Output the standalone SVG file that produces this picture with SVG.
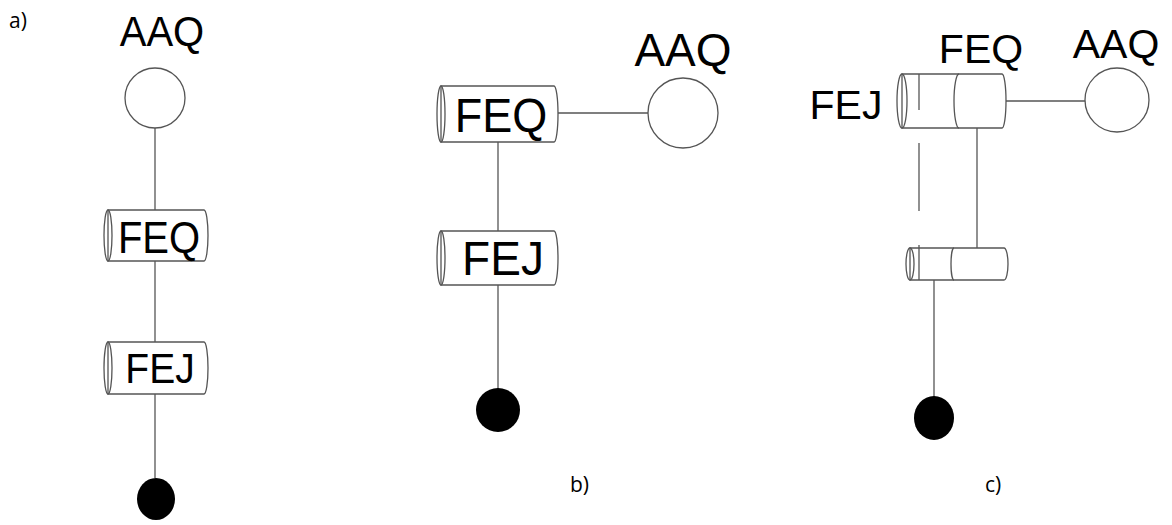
<svg xmlns="http://www.w3.org/2000/svg" width="1172" height="525" viewBox="0 0 1172 525">
<style>
.s{fill:none;stroke:#555;stroke-width:1.3}
.w{fill:#fff;stroke:#555;stroke-width:1.3}
.t{font-family:"Liberation Sans",Arial,sans-serif;fill:#000}
.p{font-family:"Open Sans","Liberation Sans",sans-serif;font-size:21px;fill:#000}
.b{fill:#000}
</style>
<rect width="1172" height="525" fill="#fff"/>
<g id="connectors">
<line class="s" x1="155" y1="128" x2="155" y2="210"/>
<line class="s" x1="155" y1="261" x2="155" y2="342"/>
<line class="s" x1="155" y1="394" x2="155" y2="478"/>
<line class="s" x1="558" y1="113" x2="648" y2="113"/>
<line class="s" x1="498" y1="142" x2="498" y2="231"/>
<line class="s" x1="498" y1="285" x2="498" y2="390"/>
<line class="s" x1="1006" y1="101" x2="1086" y2="101"/>
<line class="s" x1="977" y1="128" x2="977" y2="248"/>
<line class="s" x1="934" y1="280" x2="934" y2="398"/>
<line class="s" x1="919" y1="143" x2="919" y2="211"/>
</g>
<g id="label-a"><text class="p" x="9" y="28">a)</text></g>
<g id="label-b"><text class="p" x="570" y="492">b)</text></g>
<g id="label-c"><text class="p" x="985" y="492">c)</text></g>
<g id="a-aaq">
<text class="t" transform="translate(162,46) scale(1,1.05)" font-size="40" text-anchor="middle">AAQ</text>
<circle class="w" cx="155" cy="98" r="30"/>
</g>
<g id="a-feq">
<path class="w" d="M108 210 L204 210 A4 25.5 0 0 1 204 261 L108 261 Z"/>
<ellipse class="s" cx="108" cy="235.5" rx="4" ry="25.5"/>
<text class="t" transform="translate(159,253) scale(1,1.1)" font-size="40" text-anchor="middle">FEQ</text>
</g>
<g id="a-fej">
<path class="w" d="M108 342 L204 342 A4 26 0 0 1 204 394 L108 394 Z"/>
<ellipse class="s" cx="108" cy="368" rx="4" ry="26"/>
<text class="t" transform="translate(160,383) scale(1,1.08)" font-size="39" text-anchor="middle">FEJ</text>
</g>
<g id="a-ground"><ellipse class="b" cx="156" cy="499" rx="19" ry="21"/></g>
<g id="b-aaq">
<text class="t" x="683" y="66" font-size="46" text-anchor="middle">AAQ</text>
<circle class="w" cx="683" cy="113" r="35"/>
</g>
<g id="b-feq">
<path class="w" d="M441 86 L554 86 A4 28 0 0 1 554 142 L441 142 Z"/>
<ellipse class="s" cx="441" cy="114" rx="4" ry="28"/>
<text class="t" transform="translate(501,132) scale(1,1.08)" font-size="45" text-anchor="middle">FEQ</text>
</g>
<g id="b-fej">
<path class="w" d="M441 231 L554 231 A4 27 0 0 1 554 285 L441 285 Z"/>
<ellipse class="s" cx="441" cy="258" rx="4" ry="27"/>
<text class="t" transform="translate(503,275) scale(1,1.05)" font-size="46" text-anchor="middle">FEJ</text>
</g>
<g id="b-ground"><circle class="b" cx="498" cy="410" r="22"/></g>
<g id="c-labels">
<text class="t" x="981" y="63" font-size="41" text-anchor="middle">FEQ</text>
<text class="t" x="1116" y="58" font-size="41" text-anchor="middle">AAQ</text>
<text class="t" x="846" y="119" font-size="41" text-anchor="middle">FEJ</text>
</g>
<g id="c-aaq"><circle class="w" cx="1117" cy="100" r="32"/></g>
<g id="c-top-cylinder">
<path class="w" d="M902 74 L1002 74 A4 27 0 0 1 1002 128 L902 128 Z"/>
<ellipse class="s" cx="902" cy="101" rx="5" ry="27"/>
<path class="s" d="M959 74 A5 27 0 0 0 959 128"/>
<line class="s" x1="919" y1="74" x2="919" y2="110"/>
</g>
<g id="c-bottom-cylinder">
<path class="w" d="M910 248 L1004 248 A4 16 0 0 1 1004 280 L910 280 Z"/>
<ellipse class="s" cx="910" cy="264" rx="4" ry="16"/>
<path class="s" d="M954 248 A3 16 0 0 0 954 280"/>
<line class="s" x1="919" y1="245" x2="919" y2="280"/>
</g>
<g id="c-ground"><ellipse class="b" cx="934" cy="418" rx="20" ry="22"/></g>
</svg>
